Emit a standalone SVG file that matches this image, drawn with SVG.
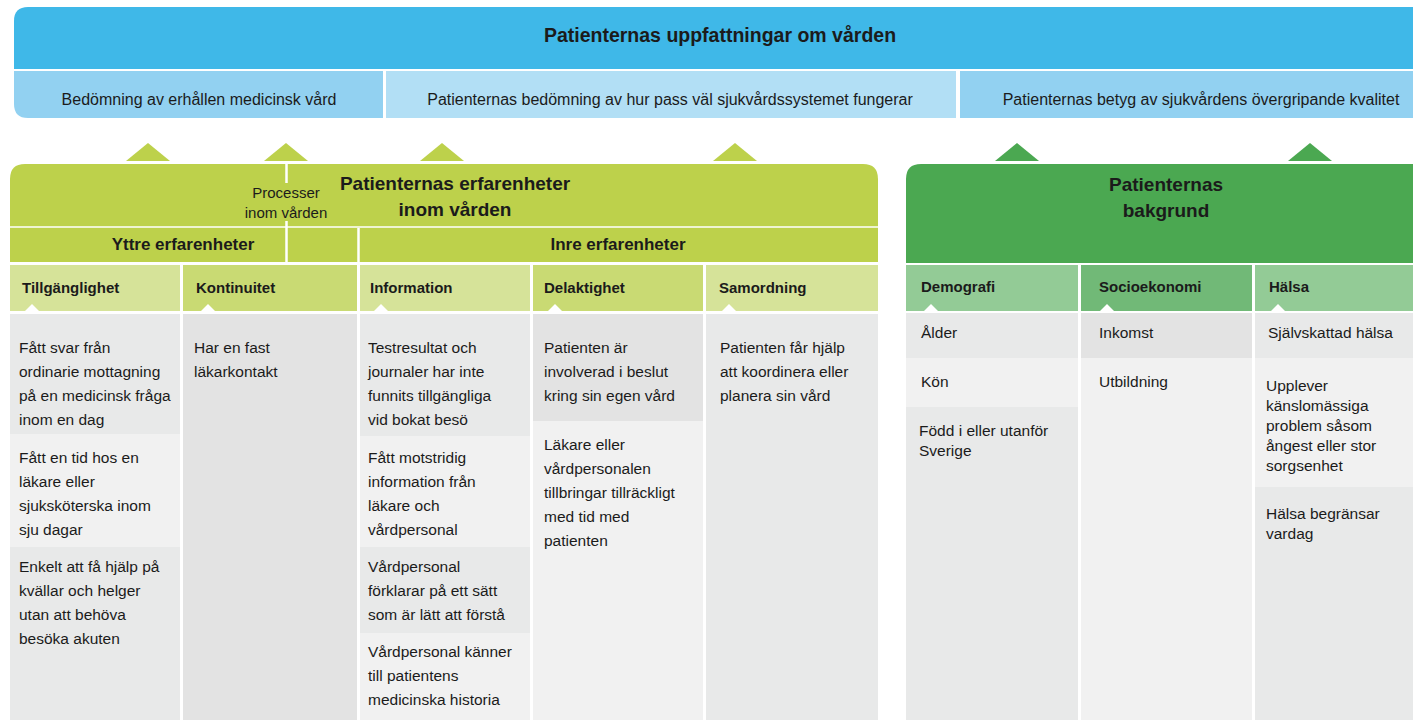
<svg xmlns="http://www.w3.org/2000/svg" width="1413" height="720" viewBox="0 0 1413 720">
  <defs>
    <style>
      text { font-family: "Liberation Sans", Arial, sans-serif; fill: #1b1b1b; }
      .title { font-size: 19.5px; font-weight: bold; }
      .band { font-size: 16px; }
      .big { font-size: 19px; font-weight: bold; }
      .sub { font-size: 17px; font-weight: bold; }
      .head { font-size: 15px; font-weight: bold; }
      .item { font-size: 15.5px; }
      .proc { font-size: 15px; }
      .g1 { fill: #E8E9E9; }
      .g2 { fill: #E3E3E3; }
      .g3 { fill: #F1F1F1; }
      .hl { fill: #D6E399; }
      .hm { fill: #C9DA73; }
      .dl { fill: #93CB96; }
      .dm { fill: #71B977; }
      .notch { fill: #FFFFFF; }
      .up-lime { fill: #BDD14B; }
      .up-green { fill: #4BA851; }
      .sep { stroke: #FFFFFF; fill: none; }
    </style>
  </defs>
  <rect width="1413" height="720" fill="#FFFFFF"/>

  <!-- top band: overall perception -->
  <g id="perception">
    <path d="M14,21 Q14,7 28,7 L1413,7 L1413,69 L14,69 Z" fill="#3FB8E8"/>
    <text class="title" x="720" y="42" text-anchor="middle">Patienternas uppfattningar om vården</text>
  </g>
  <g id="perception-medical">
    <path d="M14,71 L383,71 L383,118 L28,118 Q14,118 14,104 Z" fill="#92D1F1"/>
    <text class="band" x="199" y="105" text-anchor="middle">Bedömning av erhållen medicinsk vård</text>
  </g>
  <g id="perception-system">
    <rect x="386" y="71" width="570" height="47" fill="#B2DFF5"/>
    <text class="band" x="670" y="105" text-anchor="middle">Patienternas bedömning av hur pass väl sjukvårdssystemet fungerar</text>
  </g>
  <g id="perception-quality">
    <rect x="960" y="71" width="453" height="47" fill="#92D1F1"/>
    <text class="band" x="1201" y="105" text-anchor="middle">Patienternas betyg av sjukvårdens övergripande kvalitet</text>
  </g>

  <!-- upward arrows feeding the top band -->
  <g id="connectors">
    <polygon class="up-lime" points="126,161 148,143 170,161"/>
    <polygon class="up-lime" points="264,161 286,143 308,161"/>
    <polygon class="up-lime" points="420,161 442,143 464,161"/>
    <polygon class="up-lime" points="713,161 735,143 757,161"/>
    <polygon class="up-green" points="995,161 1017,143 1039,161"/>
    <polygon class="up-green" points="1288,161 1310,143 1332,161"/>
  </g>

  <!-- experiences panel -->
  <g id="experiences">
    <path d="M10,179 Q10,164 25,164 L863,164 Q878,164 878,179 L878,262 L10,262 Z" fill="#BDD14B"/>
    <line class="sep" x1="10" y1="227" x2="878" y2="227" stroke-width="1.5"/>
    <line class="sep" x1="286.5" y1="164" x2="286.5" y2="183" stroke-width="2.5"/>
    <line class="sep" x1="286.5" y1="221" x2="286.5" y2="262" stroke-width="2.5"/>
    <line class="sep" x1="358.5" y1="228" x2="358.5" y2="262" stroke-width="2.5"/>
    <text class="big" x="455" y="190" text-anchor="middle">Patienternas erfarenheter</text>
    <text class="big" x="455" y="216" text-anchor="middle">inom vården</text>
    <text class="proc" x="286" y="198" text-anchor="middle">Processer</text>
    <text class="proc" x="286" y="218" text-anchor="middle">inom vården</text>
  </g>
  <g id="outer-experiences">
    <text class="sub" x="183" y="250" text-anchor="middle">Yttre erfarenheter</text>
  </g>
  <g id="inner-experiences">
    <text class="sub" x="618" y="250" text-anchor="middle">Inre erfarenheter</text>
  </g>

  <!-- Tillgänglighet -->
  <g id="tillganglighet">
    <rect class="hl" x="10" y="265" width="170" height="46"/>
    <polygon class="notch" points="25,311 32,304 39,311"/>
    <text class="head" x="22" y="293">Tillgänglighet</text>
    <rect class="g1" x="10" y="314" width="170" height="120"/>
    <rect class="g3" x="10" y="434" width="170" height="113"/>
    <rect class="g1" x="10" y="547" width="170" height="173"/>
    <text class="item" x="19" y="353">Fått svar från</text>
    <text class="item" x="19" y="377">ordinarie mottagning</text>
    <text class="item" x="19" y="401">på en medicinsk fråga</text>
    <text class="item" x="19" y="425">inom en dag</text>
    <text class="item" x="19" y="463">Fått en tid hos en</text>
    <text class="item" x="19" y="487">läkare eller</text>
    <text class="item" x="19" y="511">sjuksköterska inom</text>
    <text class="item" x="19" y="535">sju dagar</text>
    <text class="item" x="19" y="572">Enkelt att få hjälp på</text>
    <text class="item" x="19" y="596">kvällar och helger</text>
    <text class="item" x="19" y="620">utan att behöva</text>
    <text class="item" x="19" y="644">besöka akuten</text>
  </g>

  <!-- Kontinuitet -->
  <g id="kontinuitet">
    <rect class="hm" x="183" y="265" width="174" height="46"/>
    <polygon class="notch" points="201,311 208,304 215,311"/>
    <text class="head" x="196" y="293">Kontinuitet</text>
    <rect class="g2" x="183" y="314" width="174" height="406"/>
    <text class="item" x="194" y="353">Har en fast</text>
    <text class="item" x="194" y="377">läkarkontakt</text>
  </g>

  <!-- Information -->
  <g id="information">
    <rect class="hl" x="360" y="265" width="170" height="46"/>
    <polygon class="notch" points="374,311 381,304 388,311"/>
    <text class="head" x="370" y="293">Information</text>
    <rect class="g1" x="360" y="314" width="170" height="122"/>
    <rect class="g3" x="360" y="436" width="170" height="111"/>
    <rect class="g1" x="360" y="547" width="170" height="86"/>
    <rect class="g3" x="360" y="633" width="170" height="87"/>
    <text class="item" x="368" y="353">Testresultat och</text>
    <text class="item" x="368" y="377">journaler har inte</text>
    <text class="item" x="368" y="401">funnits tillgängliga</text>
    <text class="item" x="368" y="425">vid bokat besö</text>
    <text class="item" x="368" y="463">Fått motstridig</text>
    <text class="item" x="368" y="487">information från</text>
    <text class="item" x="368" y="511">läkare och</text>
    <text class="item" x="368" y="535">vårdpersonal</text>
    <text class="item" x="368" y="572">Vårdpersonal</text>
    <text class="item" x="368" y="596">förklarar på ett sätt</text>
    <text class="item" x="368" y="620">som är lätt att förstå</text>
    <text class="item" x="368" y="657">Vårdpersonal känner</text>
    <text class="item" x="368" y="681">till patientens</text>
    <text class="item" x="368" y="705">medicinska historia</text>
  </g>

  <!-- Delaktighet -->
  <g id="delaktighet">
    <rect class="hm" x="533" y="265" width="170" height="46"/>
    <polygon class="notch" points="548,311 555,304 562,311"/>
    <text class="head" x="544" y="293">Delaktighet</text>
    <rect class="g2" x="533" y="314" width="170" height="107"/>
    <rect class="g3" x="533" y="421" width="170" height="299"/>
    <text class="item" x="544" y="353">Patienten är</text>
    <text class="item" x="544" y="377">involverad i beslut</text>
    <text class="item" x="544" y="401">kring sin egen vård</text>
    <text class="item" x="544" y="450">Läkare eller</text>
    <text class="item" x="544" y="474">vårdpersonalen</text>
    <text class="item" x="544" y="498">tillbringar tillräckligt</text>
    <text class="item" x="544" y="522">med tid med</text>
    <text class="item" x="544" y="546">patienten</text>
  </g>

  <!-- Samordning -->
  <g id="samordning">
    <rect class="hl" x="706" y="265" width="172" height="46"/>
    <polygon class="notch" points="722,311 729,304 736,311"/>
    <text class="head" x="719" y="293">Samordning</text>
    <rect class="g1" x="706" y="314" width="172" height="406"/>
    <text class="item" x="720" y="353">Patienten får hjälp</text>
    <text class="item" x="720" y="377">att koordinera eller</text>
    <text class="item" x="720" y="401">planera sin vård</text>
  </g>

  <!-- background panel -->
  <g id="background">
    <path d="M906,179 Q906,164 921,164 L1413,164 L1413,263 L906,263 Z" fill="#4BA851"/>
    <text class="big" x="1166" y="191" text-anchor="middle">Patienternas</text>
    <text class="big" x="1166" y="217" text-anchor="middle">bakgrund</text>
  </g>

  <!-- Demografi -->
  <g id="demografi">
    <rect class="dl" x="906" y="265" width="172" height="46"/>
    <polygon class="notch" points="924,311 931,304 938,311"/>
    <text class="head" x="921" y="292">Demografi</text>
    <rect class="g1" x="906" y="313" width="172" height="45"/>
    <rect class="g3" x="906" y="358" width="172" height="49"/>
    <rect class="g1" x="906" y="407" width="172" height="313"/>
    <text class="item" x="921" y="338">Ålder</text>
    <text class="item" x="921" y="387">Kön</text>
    <text class="item" x="919" y="436">Född i eller utanför</text>
    <text class="item" x="919" y="456">Sverige</text>
  </g>

  <!-- Socioekonomi -->
  <g id="socioekonomi">
    <rect class="dm" x="1081" y="265" width="171" height="46"/>
    <polygon class="notch" points="1100,311 1107,304 1114,311"/>
    <text class="head" x="1099" y="292">Socioekonomi</text>
    <rect class="g2" x="1081" y="313" width="171" height="45"/>
    <rect class="g3" x="1081" y="358" width="171" height="362"/>
    <text class="item" x="1099" y="338">Inkomst</text>
    <text class="item" x="1099" y="387">Utbildning</text>
  </g>

  <!-- Hälsa -->
  <g id="halsa">
    <rect class="dl" x="1255" y="265" width="158" height="46"/>
    <polygon class="notch" points="1271,311 1278,304 1285,311"/>
    <text class="head" x="1269" y="292">Hälsa</text>
    <rect class="g1" x="1255" y="313" width="158" height="45"/>
    <rect class="g3" x="1255" y="358" width="158" height="129"/>
    <rect class="g1" x="1255" y="487" width="158" height="233"/>
    <text class="item" x="1268" y="338">Självskattad hälsa</text>
    <text class="item" x="1266" y="391">Upplever</text>
    <text class="item" x="1266" y="411">känslomässiga</text>
    <text class="item" x="1266" y="431">problem såsom</text>
    <text class="item" x="1266" y="451">ångest eller stor</text>
    <text class="item" x="1266" y="471">sorgsenhet</text>
    <text class="item" x="1266" y="519">Hälsa begränsar</text>
    <text class="item" x="1266" y="539">vardag</text>
  </g>
</svg>
